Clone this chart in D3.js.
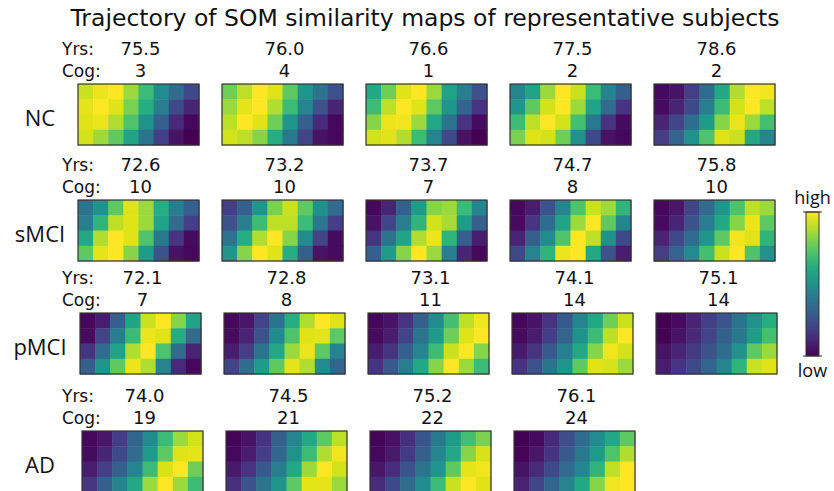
<!DOCTYPE html>
<html>
<head>
<meta charset="utf-8">
<script src="https://cdn.jsdelivr.net/npm/d3@7.9.0/dist/d3.min.js"></script>
<style>
  body { margin: 0; background: #fff; }
  svg text { fill: #111; }
</style>
</head>
<body>
<svg id="chart" width="834" height="491"></svg>
<script>
const groups = ['NC', 'sMCI', 'pMCI', 'AD'];
const years = [
  ['75.5', '76.0', '76.6', '77.5', '78.6'],
  ['72.6', '73.2', '73.7', '74.7', '75.8'],
  ['72.1', '72.8', '73.1', '74.1', '75.1'],
  ['74.0', '74.5', '75.2', '76.1']
];
const cogScores = [
  [3, 4, 1, 2, 2],
  [10, 10, 7, 8, 10],
  [7, 8, 11, 14, 14],
  [19, 21, 22, 24]
];

// each map: 4 rows x 8 columns of similarity (0 = low, 1 = high)
const ncMaps = [
  [[.92,.97,1,.85,.68,.48,.35,.22],[.96,1,.95,.8,.62,.42,.22,.1],[.95,.97,.88,.72,.5,.3,.12,.02],[.93,.85,.75,.58,.38,.18,.05,0]],
  [[.78,.9,1,.95,.75,.52,.38,.25],[.85,.96,1,.88,.68,.45,.25,.1],[.9,1,.95,.78,.52,.3,.12,.02],[.93,.9,.82,.62,.4,.2,.05,.02]],
  [[.6,.78,.95,1,.85,.58,.42,.25],[.68,.9,1,.95,.75,.52,.32,.15],[.82,.97,.98,.85,.6,.38,.15,.03],[.93,.95,.88,.68,.45,.22,.05,0]],
  [[.45,.58,.85,1,.92,.68,.45,.3],[.52,.75,.93,1,.85,.58,.35,.15],[.68,.9,1,.93,.7,.4,.15,.03],[.8,.95,.93,.78,.5,.22,.05,.02]],
  [[.02,.05,.18,.35,.6,.88,1,.98],[.03,.1,.22,.42,.68,.93,1,.9],[.1,.2,.35,.55,.82,.97,.85,.7],[.18,.32,.5,.72,.95,.92,.6,.45]]
];
const smciMaps = [
  [[.38,.5,.75,.95,.85,.62,.42,.3],[.42,.65,.9,.95,.85,.58,.35,.18],[.6,.88,1,.95,.72,.4,.15,.03],[.75,.96,1,.82,.55,.25,.05,.02]],
  [[.18,.3,.52,.8,.92,.75,.5,.35],[.25,.42,.68,.9,.9,.68,.4,.18],[.38,.62,.88,1,.82,.48,.2,.03],[.52,.82,1,.95,.62,.3,.05,.03]],
  [[.02,.1,.3,.55,.82,.85,.68,.45],[.05,.2,.42,.65,.93,.87,.55,.3],[.15,.38,.58,.88,.97,.65,.3,.08],[.3,.55,.82,1,.85,.42,.1,.02]],
  [[.02,.08,.25,.45,.72,.92,.85,.65],[.03,.15,.35,.58,.85,1,.75,.45],[.1,.3,.48,.72,1,.9,.5,.22],[.22,.45,.65,.97,1,.6,.25,.08]],
  [[.02,.06,.2,.35,.52,.72,.9,.85],[.03,.1,.25,.42,.6,.82,.97,.75],[.1,.22,.35,.52,.75,.98,.95,.65],[.18,.32,.48,.7,.92,1,.72,.5]]
];
const pmciMaps = [
  [[.02,.08,.3,.58,.92,1,.82,.58],[.03,.2,.42,.68,.97,.95,.62,.35],[.15,.35,.58,.88,1,.72,.35,.1],[.3,.52,.75,.97,.88,.45,.12,.02]],
  [[.02,.06,.2,.38,.62,.88,1,.95],[.03,.1,.25,.48,.72,.95,.96,.75],[.08,.18,.38,.6,.85,.97,.75,.45],[.2,.35,.55,.75,.96,.88,.48,.32]],
  [[.02,.05,.15,.3,.48,.7,.9,.98],[.03,.08,.2,.38,.55,.78,.95,1],[.08,.15,.3,.45,.68,.92,1,.82],[.15,.28,.42,.6,.82,1,.85,.68]],
  [[.02,.05,.15,.28,.45,.6,.78,.92],[.03,.08,.18,.32,.5,.68,.9,1],[.07,.15,.28,.42,.6,.82,.98,.93],[.15,.25,.38,.52,.75,.95,.94,.85]],
  [[0,.03,.1,.18,.26,.38,.5,.62],[0,.05,.12,.2,.3,.4,.55,.7],[.05,.1,.17,.25,.35,.5,.75,.85],[.08,.15,.22,.32,.45,.65,.92,.95]]
];
const adMaps = [
  [[.02,.06,.18,.32,.48,.68,.85,.93],[.03,.1,.22,.35,.55,.75,.95,.96],[.08,.18,.3,.45,.68,.94,1,.78],[.16,.3,.45,.6,.85,1,.85,.68]],
  [[.01,.05,.15,.3,.45,.6,.75,.9],[.02,.08,.18,.33,.5,.68,.88,.98],[.07,.15,.28,.42,.6,.85,1,.93],[.14,.25,.38,.52,.75,.96,.96,.85]],
  [[.01,.04,.14,.26,.4,.55,.7,.8],[.02,.07,.17,.3,.45,.6,.82,.94],[.06,.13,.25,.38,.52,.75,.96,.98],[.12,.22,.35,.48,.68,.92,1,.95]],
  [[0,.03,.12,.24,.35,.48,.6,.75],[.01,.06,.15,.28,.4,.55,.72,.88],[.05,.12,.22,.34,.46,.65,.9,1],[.1,.2,.32,.45,.6,.82,.98,1]]
];
const allMaps = [ncMaps, smciMaps, pmciMaps, adMaps];

const svg = d3.select('#chart');
const color = d3.scaleSequential(d3.interpolateViridis).domain([0, 1]);

const mapW = 121, mapH = 61, step = 144;
const rowTop = [84, 200, 313, 431];
const rowLeft = [78, 78, 80, 82];

const x = d3.scaleBand().domain(d3.range(8)).range([0, mapW]);
const y = d3.scaleBand().domain(d3.range(4)).range([0, mapH]);

svg.append('text')
  .attr('x', 425).attr('y', 26)
  .attr('text-anchor', 'middle')
  .style('font', '23.5px "DejaVu Sans"')
  .text('Trajectory of SOM similarity maps of representative subjects');

groups.forEach((g, gi) => {
  const top = rowTop[gi];
  svg.append('text')
    .attr('x', 40).attr('y', top + 42)
    .attr('text-anchor', 'middle')
    .style('font', '22px "Open Sans"')
    .text(g);

  svg.append('text').attr('x', 62).attr('y', top - 29)
    .style('font', '17px "DejaVu Sans"').text('Yrs:');
  svg.append('text').attr('x', 62).attr('y', top - 7)
    .style('font', '17px "DejaVu Sans"').text('Cog:');

  allMaps[gi].forEach((m, mi) => {
    const left = rowLeft[gi] + mi * step;
    const cx = left + mapW / 2 + 2;
    svg.append('text').attr('x', cx).attr('y', top - 29)
      .attr('text-anchor', 'middle')
      .style('font', '18px "DejaVu Sans"').text(years[gi][mi]);
    svg.append('text').attr('x', cx).attr('y', top - 7)
      .attr('text-anchor', 'middle')
      .style('font', '18px "DejaVu Sans"').text(cogScores[gi][mi]);

    const cell = svg.append('g').attr('transform', `translate(${left},${top})`);
    m.forEach((row, r) => {
      row.forEach((v, c) => {
        cell.append('rect')
          .attr('x', x(c)).attr('y', y(r))
          .attr('width', x.bandwidth() + 0.5).attr('height', y.bandwidth() + 0.5)
          .attr('fill', color(v));
      });
    });
    cell.append('rect')
      .attr('width', mapW).attr('height', mapH)
      .attr('fill', 'none').attr('stroke', '#333').attr('stroke-width', 1.2);
  });
});

// colorbar
const cbX = 806, cbW = 13, cbTop = 212, cbBottom = 356;
const cbScale = d3.scaleLinear().domain([0, 1]).range([cbBottom, cbTop]);
const defs = svg.append('defs');
const grad = defs.append('linearGradient').attr('id', 'cb')
  .attr('x1', 0).attr('y1', 1).attr('x2', 0).attr('y2', 0);
d3.range(0, 1.001, 0.1).forEach(t => {
  grad.append('stop').attr('offset', t).attr('stop-color', color(t));
});
svg.append('rect')
  .attr('x', cbX).attr('y', cbScale(1))
  .attr('width', cbW).attr('height', cbScale(0) - cbScale(1))
  .attr('fill', 'url(#cb)').attr('stroke', '#333').attr('stroke-width', 1);
[0, 1].forEach(t => {
  svg.append('line')
    .attr('x1', cbX - 3).attr('x2', cbX + cbW + 3)
    .attr('y1', cbScale(t)).attr('y2', cbScale(t))
    .attr('stroke', '#333').attr('stroke-width', 1);
});
svg.append('text').attr('x', cbX + cbW / 2).attr('y', cbTop - 8)
  .attr('text-anchor', 'middle').style('font', '18px "Open Sans"').text('high');
svg.append('text').attr('x', cbX + cbW / 2).attr('y', cbBottom + 21)
  .attr('text-anchor', 'middle').style('font', '18px "Open Sans"').text('low');
</script>
</body>
</html>
